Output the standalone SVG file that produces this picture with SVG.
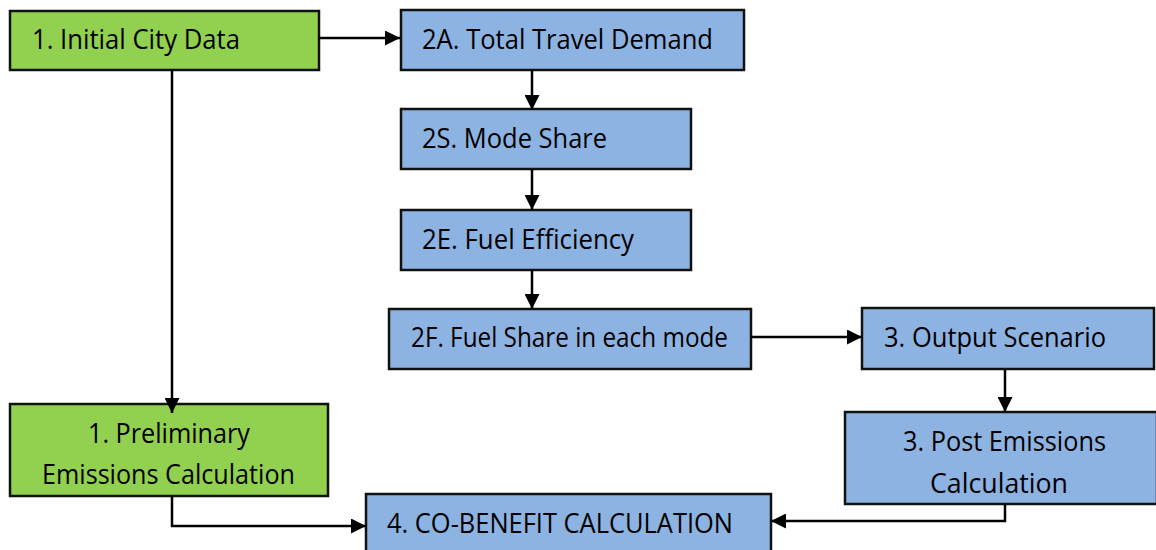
<svg xmlns="http://www.w3.org/2000/svg" width="1156" height="550" viewBox="0 0 1156 550">
<style>
.g{fill:#92d050;stroke:#111;stroke-width:2.5}
.b{fill:#8db3e2;stroke:#111;stroke-width:2.5}
text{font-family:"Open Sans","Noto Sans","DejaVu Sans",sans-serif;font-size:27px;fill:#000}
.c{fill:none;stroke:#000;stroke-width:2.5}
</style>
<defs>
<marker id="ah" markerUnits="userSpaceOnUse" markerWidth="15" markerHeight="15" refX="15" refY="7.5" orient="auto">
<path d="M0,0 L15,7.5 L0,15 z" fill="#000"/>
</marker>
</defs>
<rect width="1156" height="550" fill="#fff"/>
<g id="n1">
<rect class="g" x="10" y="11" width="309" height="59"/>
<text x="32" y="49" textLength="208" lengthAdjust="spacingAndGlyphs">1. Initial City Data</text>
</g>
<g id="n2a">
<rect class="b" x="401" y="10" width="343" height="60"/>
<text x="422" y="49" textLength="291" lengthAdjust="spacingAndGlyphs">2A. Total Travel Demand</text>
</g>
<g id="n2s">
<rect class="b" x="401" y="109" width="290" height="60"/>
<text x="422" y="148" textLength="185" lengthAdjust="spacingAndGlyphs">2S. Mode Share</text>
</g>
<g id="n2e">
<rect class="b" x="401" y="210" width="290" height="60"/>
<text x="422" y="249" textLength="212" lengthAdjust="spacingAndGlyphs">2E. Fuel Efficiency</text>
</g>
<g id="n2f">
<rect class="b" x="389" y="309" width="362" height="60"/>
<text x="411" y="347" textLength="317" lengthAdjust="spacingAndGlyphs">2F. Fuel Share in each mode</text>
</g>
<g id="n3out">
<rect class="b" x="862" y="308" width="292" height="61"/>
<text x="884" y="347" textLength="222" lengthAdjust="spacingAndGlyphs">3. Output Scenario</text>
</g>
<g id="n3post">
<rect class="b" x="845" y="412" width="312" height="92"/>
<text x="903" y="451" textLength="203" lengthAdjust="spacingAndGlyphs">3. Post Emissions</text>
<text x="930" y="493" textLength="138" lengthAdjust="spacingAndGlyphs">Calculation</text>
</g>
<g id="n1prelim">
<rect class="g" x="10" y="404" width="318" height="92"/>
<text x="88" y="443" textLength="162" lengthAdjust="spacingAndGlyphs">1. Preliminary</text>
<text x="42" y="484" textLength="253" lengthAdjust="spacingAndGlyphs">Emissions Calculation</text>
</g>
<g id="n4">
<rect class="b" x="366" y="494" width="405" height="62"/>
<text x="387" y="533" textLength="346" lengthAdjust="spacingAndGlyphs">4. CO-BENEFIT CALCULATION</text>
</g>
<g id="connectors">
<path class="c" d="M319,38 H400" marker-end="url(#ah)"/>
<path class="c" d="M172,70 V413" marker-end="url(#ah)"/>
<path class="c" d="M532,70 V110" marker-end="url(#ah)"/>
<path class="c" d="M532,169 V210" marker-end="url(#ah)"/>
<path class="c" d="M532,270 V309" marker-end="url(#ah)"/>
<path class="c" d="M751,337 H862" marker-end="url(#ah)"/>
<path class="c" d="M1005,369 V412" marker-end="url(#ah)"/>
<path class="c" d="M172,496 V526 H366" marker-end="url(#ah)"/>
<path class="c" d="M1005,504 V521 H771" marker-end="url(#ah)"/>
</g>
</svg>
